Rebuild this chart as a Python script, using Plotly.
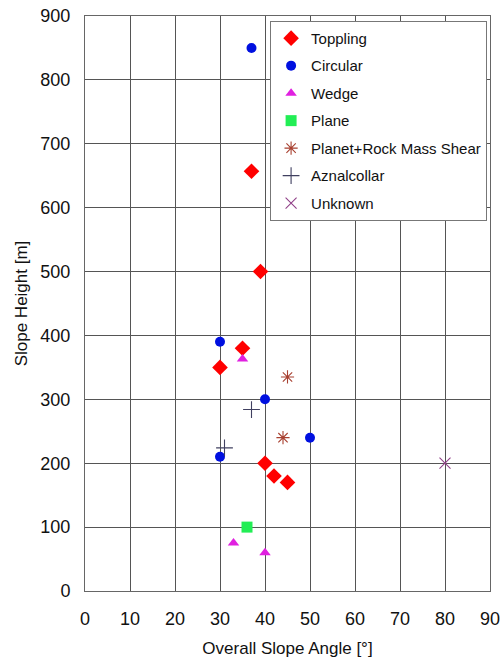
import plotly.graph_objects as go

toppling_x = [37, 39, 35, 30, 40, 42, 45]
toppling_y = [657, 500, 380, 350, 200, 180, 170]
circular_x = [37, 30, 40, 30, 50]
circular_y = [850, 390, 300, 210, 240]
wedge_x = [35, 33, 40]
wedge_y = [363, 75, 60]
plane_x = [36]
plane_y = [100]
prms_x = [45, 44]
prms_y = [335, 240]
azn_x = [37, 31]
azn_y = [284, 224]
unk_x = [80]
unk_y = [200]

series = [
    ("Toppling", toppling_x, toppling_y, "diamond", "#ff0000", 12, 0),
    ("Circular", circular_x, circular_y, "circle", "#0010e0", 10, 0),
    ("Wedge", wedge_x, wedge_y, "triangle-up", "#e020e0", 10, 0),
    ("Plane", plane_x, plane_y, "square", "#22ee55", 11, 0),
    ("Planet+Rock Mass Shear", prms_x, prms_y, "asterisk-open", "#a84030", 11, 1.1),
    ("Aznalcollar", azn_x, azn_y, "cross-thin-open", "#404060", 12, 1.1),
    ("Unknown", unk_x, unk_y, "x-thin-open", "#904088", 11, 1.1),
]

fig = go.Figure()
for i, (name, xs, ys, sym, col, size, lw) in enumerate(series):
    fig.add_trace(go.Scatter(
        x=xs, y=ys, mode="markers", name=name, legendgroup=f"g{i}",
        marker=dict(symbol=sym, color=col, size=size,
                    line=dict(width=lw, color=col)),
    ))

axis_common = dict(
    showgrid=True, gridcolor="#555555", gridwidth=1,
    showline=True, linecolor="#666666", linewidth=1, mirror=True,
    ticks="", zeroline=False, automargin=False, ticklabeloverflow="allow",
    tickfont=dict(family="Liberation Sans, Arial", size=18, color="#111111"),
    title_font=dict(family="Liberation Sans, Arial", size=17, color="#111111"),
)

fig.update_layout(
    width=500, height=661,
    margin=dict(l=85, r=10, t=16, b=70),
    plot_bgcolor="white", paper_bgcolor="white",
    showlegend=True,
    legend=dict(
        x=0.457, y=0.9915, xanchor="left", yanchor="top",
        bgcolor="white", bordercolor="#777777", borderwidth=1,
        font=dict(family="Liberation Sans, Arial", size=15, color="#111111"),
        tracegroupgap=5, traceorder="grouped",
    ),
    xaxis=dict(range=[0, 90], dtick=10, title=dict(text="Overall Slope Angle [°]", standoff=14),
               ticklabelstandoff=11, **axis_common),
    yaxis=dict(range=[0, 900], dtick=100, title=dict(text="Slope Height [m]", standoff=8),
               ticklabelstandoff=10, **axis_common),
)

fig.write_html("out.html")
